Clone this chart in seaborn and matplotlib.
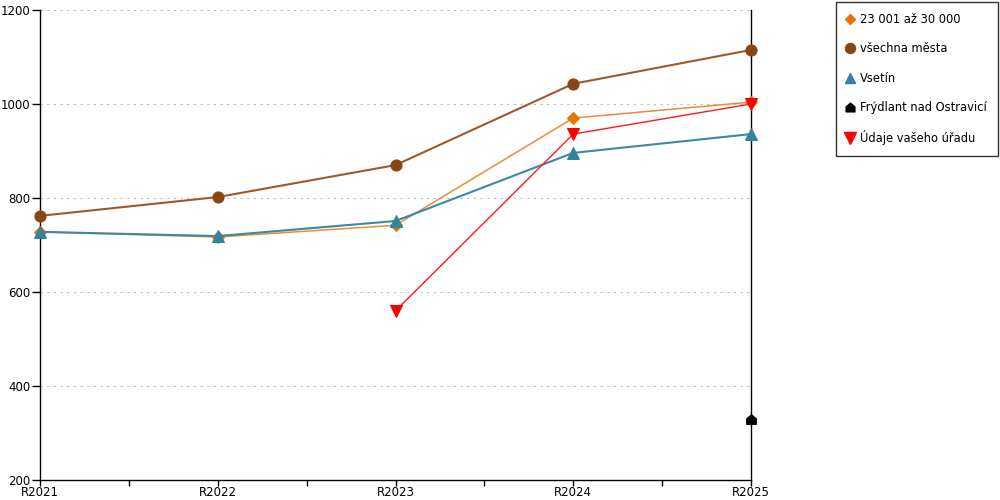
import numpy as np
import pandas as pd
import matplotlib
matplotlib.use('Agg')
import matplotlib.pyplot as plt
import seaborn as sns
from matplotlib.lines import Line2D
from matplotlib.path import Path

# Data
years = ['R2021', 'R2022', 'R2023', 'R2024', 'R2025']
group_23_30 = [728, 717, 742, 970, 1004]
all_cities = [762, 802, 870, 1043, 1115]
vsetin = [728, 719, 751, 896, 936]
frydlant_years = ['R2025']
frydlant = [330]
office_years = ['R2023', 'R2024', 'R2025']
office = [560, 936, 1000]

sns.set_theme(style='white')
plt.rcParams['font.family'] = ['DejaVu Sans']
plt.rcParams['text.color'] = 'black'

house = Path([(-1, -1), (1, -1), (1, 0.15), (0, 1), (-1, 0.15), (-1, -1)],
             [Path.MOVETO, Path.LINETO, Path.LINETO, Path.LINETO, Path.LINETO, Path.CLOSEPOLY])

fig = plt.figure(figsize=(10, 5), dpi=100)
ax = fig.add_axes([0.04, 0.04, 0.711, 0.94])

pos = {y: i for i, y in enumerate(years)}

series = [
    ('23 001 až 30 000', years, group_23_30, '#E8720C', '#EE8A3A', 'D', 6, 1.1),
    ('všechna města', years, all_cities, '#8B4513', '#A0582A', 'o', 8, 1.5),
    ('Vsetín', years, vsetin, '#31849B', '#3A8AA0', '^', 8, 1.5),
    ('Frýdlant nad Ostravicí', frydlant_years, frydlant, 'black', 'black', house, 7, 1.0),
    ('Údaje vašeho úřadu', office_years, office, '#FF0000', '#FF1A1A', 'v', 9, 1.0),
]

handles = []
for name, xs, vals, mc, lc, mk, ms, lw in series:
    df = pd.DataFrame({'x': [pos[x] for x in xs], 'y': vals})
    sns.lineplot(data=df, x='x', y='y', ax=ax, color=lc, linewidth=lw,
                 marker=mk, markersize=ms, markerfacecolor=mc,
                 markeredgecolor=mc, legend=False, zorder=3, clip_on=False)
    handles.append(Line2D([], [], linestyle='none', marker=mk, markersize=ms * 0.9,
                          markerfacecolor=mc, markeredgecolor=mc, label=name))

ax.set_xlim(0, 4)
ax.set_ylim(200, 1200)
ax.set_xticks(range(len(years)))
ax.set_xticklabels(years)
ax.set_xticks([0.5, 1.5, 2.5, 3.5], minor=True)
ax.set_yticks(range(200, 1201, 200))
ax.set_xlabel('')
ax.set_ylabel('')

for yv in range(400, 1201, 200):
    ax.axhline(yv, color='#BBBBBB', linewidth=0.8, linestyle=(0, (2, 4)), zorder=1)

ax.spines['top'].set_visible(False)
for side in ['left', 'bottom', 'right']:
    ax.spines[side].set_color('black')
    ax.spines[side].set_linewidth(1.0)

ax.tick_params(axis='both', which='both', direction='out', width=1,
               colors='black', labelsize=8.5)
ax.tick_params(axis='x', which='both', bottom=True, length=4, pad=0)
ax.tick_params(axis='y', left=True, length=6, pad=1)

fig.legend(handles=handles, loc='upper right', bbox_to_anchor=(0.998, 0.996),
           frameon=True, fancybox=False, edgecolor='black', fontsize=8.3,
           labelspacing=1.42, handlelength=0.6, handletextpad=0.6,
           borderpad=0.95, borderaxespad=0)

fig.savefig('out.png', dpi=100)
